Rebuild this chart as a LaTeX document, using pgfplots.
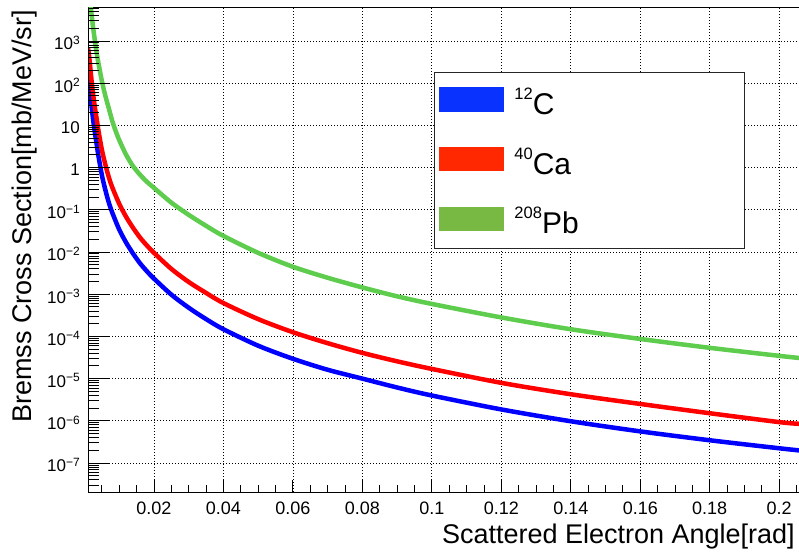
\documentclass[border=0pt]{standalone}
\usepackage{fontspec}
\setmainfont{Liberation Sans}
\usepackage{pgfplots}
\pgfplotsset{compat=1.18}
\definecolor{cblue}{RGB}{0,0,255}
\definecolor{cred}{RGB}{255,0,0}
\definecolor{cgreen}{RGB}{94,204,76}
\definecolor{lblue}{RGB}{10,50,255}
\definecolor{lred}{RGB}{255,40,0}
\definecolor{lgreen}{RGB}{119,185,67}
\newcommand\tp[1]{10\raisebox{5.5pt}{\fontsize{12}{12}\selectfont #1}}
\newcommand\legtxt[2]{\makebox[226pt][l]{\raisebox{15pt}{\fontsize{16.5}{16.5}\selectfont #1}\fontsize{30}{30}\selectfont #2}}
\begin{document}
\begin{tikzpicture}
\path[use as bounding box] (0,0) rectangle (799pt,553pt);
\begin{axis}[
  at={(88pt,61pt)}, anchor=south west, scale only axis, width=711pt, height=484pt,
  ymode=log, xmin=0.001, xmax=0.2057, ymin=2.06e-8, ymax=6050,
  xtick={0.02,0.04,0.06,0.08,0.1,0.12,0.14,0.16,0.18,0.2},
  xticklabels={0.02,0.04,0.06,0.08,0.1,0.12,0.14,0.16,0.18,0.2},
  minor xtick={0.005,0.01,0.015,0.025,0.03,0.035,0.045,0.05,0.055,0.065,0.07,0.075,0.085,0.09,0.095,0.105,0.11,0.115,0.125,0.13,0.135,0.145,0.15,0.155,0.165,0.17,0.175,0.185,0.19,0.195,0.205},
  ytick={1e-7,1e-6,1e-5,1e-4,1e-3,1e-2,1e-1,1,10,100,1000},
  yticklabels={\tp{−7},\tp{−6},\tp{−5},\tp{−4},\tp{−3},\tp{−2},\tp{−1},1,10,\tp{2},\tp{3}},
  tick pos=left, tick align=inside,
  major tick length=12pt, minor tick length=7pt,
  grid=major,
  major grid style={black, line width=0.8pt, dash pattern=on 0.9pt off 2.1pt},
  axis line style={line width=1pt},
  every tick/.style={black, line width=0.9pt},
  xticklabel style={font=\fontsize{18}{18}\selectfont, inner sep=0pt, yshift=-10pt},
  yticklabel style={font=\fontsize{17}{17}\selectfont, inner sep=0pt, xshift=-8pt, yshift=-2pt},
  xlabel={Scattered Electron Angle[rad]},
  xlabel style={at={(axis description cs:1,0)}, anchor=base east, inner sep=0pt, xshift=-4pt, yshift=-51pt, font=\fontsize{27}{30}\selectfont},
  ylabel={Bremss Cross Section[mb/MeV/sr]},
  ylabel style={at={(axis description cs:0,1)}, anchor=base east, inner sep=0pt, yshift=57pt, xshift=-2pt, font=\fontsize{27}{30}\selectfont},
  legend style={at={(axis description cs:0.4866,0.8678)}, anchor=north west, draw=black!85, line width=1.2pt, fill=white,
    inner xsep=4.4pt, inner ysep=14.5pt, row sep=32.5pt, column sep=10pt,
    cells={anchor=base west}, nodes={inner sep=0pt, text depth=0pt, anchor=base west}},
]
\addplot[cblue, line width=4.5pt, smooth, legend image code/.code={\fill[lblue] (0pt,5pt) rectangle (61pt,25pt);}] table {
x y
0.001 1.778e2
0.0012 1.318e2
0.0014 9.550e1
0.0017 5.248e1
0.002 2.951e1
0.0025 1.318e1
0.003 6.607
0.0035 3.548
0.004 1.905
0.005 6.607e-1
0.006 2.951e-1
0.007 1.479e-1
0.008 8.511e-2
0.010 3.388e-2
0.012 1.660e-2
0.014 9.120e-3
0.016 5.370e-3
0.018 3.467e-3
0.020 2.344e-3
0.025 9.772e-4
0.030 4.786e-4
0.035 2.570e-4
0.040 1.479e-4
0.050 6.026e-5
0.060 2.951e-5
0.070 1.622e-5
0.080 1.000e-5
0.090 6.166e-6
0.100 3.981e-6
0.120 1.862e-6
0.140 9.772e-7
0.160 5.623e-7
0.180 3.467e-7
0.200 2.239e-7
0.2057 1.995e-7
};
\addlegendentry{\legtxt{12}{C}}
\addplot[cred, line width=4.5pt, smooth, legend image code/.code={\fill[lred] (0pt,5pt) rectangle (61pt,25pt);}] table {
x y
0.001 6.761e2
0.0012 5.248e2
0.0014 3.802e2
0.0017 2.138e2
0.002 1.202e2
0.0025 5.248e1
0.003 2.630e1
0.0035 1.413e1
0.004 7.586
0.005 2.630
0.006 1.175
0.007 5.888e-1
0.008 3.388e-1
0.010 1.380e-1
0.012 6.761e-2
0.014 3.715e-2
0.016 2.188e-2
0.018 1.413e-2
0.020 9.550e-3
0.025 3.981e-3
0.030 1.950e-3
0.035 1.072e-3
0.040 6.166e-4
0.050 2.570e-4
0.060 1.259e-4
0.070 6.918e-5
0.080 4.074e-5
0.090 2.570e-5
0.100 1.698e-5
0.120 7.943e-6
0.140 4.266e-6
0.160 2.512e-6
0.180 1.514e-6
0.200 9.333e-7
0.2057 8.511e-7
};
\addlegendentry{\legtxt{40}{Ca}}
\addplot[cgreen, line width=4.5pt, smooth, legend image code/.code={\fill[lgreen] (0pt,5pt) rectangle (61pt,25pt);}] table {
x y
0.0015 1.413e4
0.0017 8.913e3
0.002 4.467e3
0.0025 1.995e3
0.003 1.000e3
0.0035 5.248e2
0.004 3.020e2
0.005 1.122e2
0.006 5.012e1
0.007 2.512e1
0.008 1.259e1
0.009 7.244
0.010 4.467
0.012 1.995
0.014 1.072
0.016 6.761e-1
0.018 4.571e-1
0.020 3.311e-1
0.025 1.479e-1
0.030 7.586e-2
0.035 4.169e-2
0.040 2.399e-2
0.050 9.550e-3
0.060 4.467e-3
0.070 2.455e-3
0.080 1.445e-3
0.090 8.913e-4
0.100 5.888e-4
0.120 2.818e-4
0.140 1.479e-4
0.160 8.710e-5
0.180 5.370e-5
0.200 3.467e-5
0.2057 3.090e-5
};
\addlegendentry{\legtxt{208}{Pb}}
\end{axis}
\begin{axis}[
  at={(88pt,61pt)}, anchor=south west, scale only axis, width=711pt, height=484pt,
  ymode=log, xmin=0.001, xmax=0.2057, ymin=2.06e-8, ymax=6050,
  hide x axis,
  ytick={1e-7,1e-6,1e-5,1e-4,1e-3,1e-2,1e-1,1,10,100,1000},
  yticklabels={,,,,,,,,,,},
  minor ytick={2e-8,3e-8,4e-8,5e-8,6e-8,7e-8,8e-8,9e-8,
    2e-7,3e-7,4e-7,5e-7,6e-7,7e-7,8e-7,9e-7,
    2e-6,3e-6,4e-6,5e-6,6e-6,7e-6,8e-6,9e-6,
    2e-5,3e-5,4e-5,5e-5,6e-5,7e-5,8e-5,9e-5,
    2e-4,3e-4,4e-4,5e-4,6e-4,7e-4,8e-4,9e-4,
    2e-3,3e-3,4e-3,5e-3,6e-3,7e-3,8e-3,9e-3,
    2e-2,3e-2,4e-2,5e-2,6e-2,7e-2,8e-2,9e-2,
    2e-1,3e-1,4e-1,5e-1,6e-1,7e-1,8e-1,9e-1,
    2,3,4,5,6,7,8,9,20,30,40,50,60,70,80,90,
    200,300,400,500,600,700,800,900,2000,3000,4000,5000,6000},
  ytick pos=left, tick align=inside,
  major tick length=22pt, minor tick length=11pt,
  axis line style={line width=1pt},
  every tick/.style={black, line width=0.9pt},
]
\end{axis}
\end{tikzpicture}
\end{document}
